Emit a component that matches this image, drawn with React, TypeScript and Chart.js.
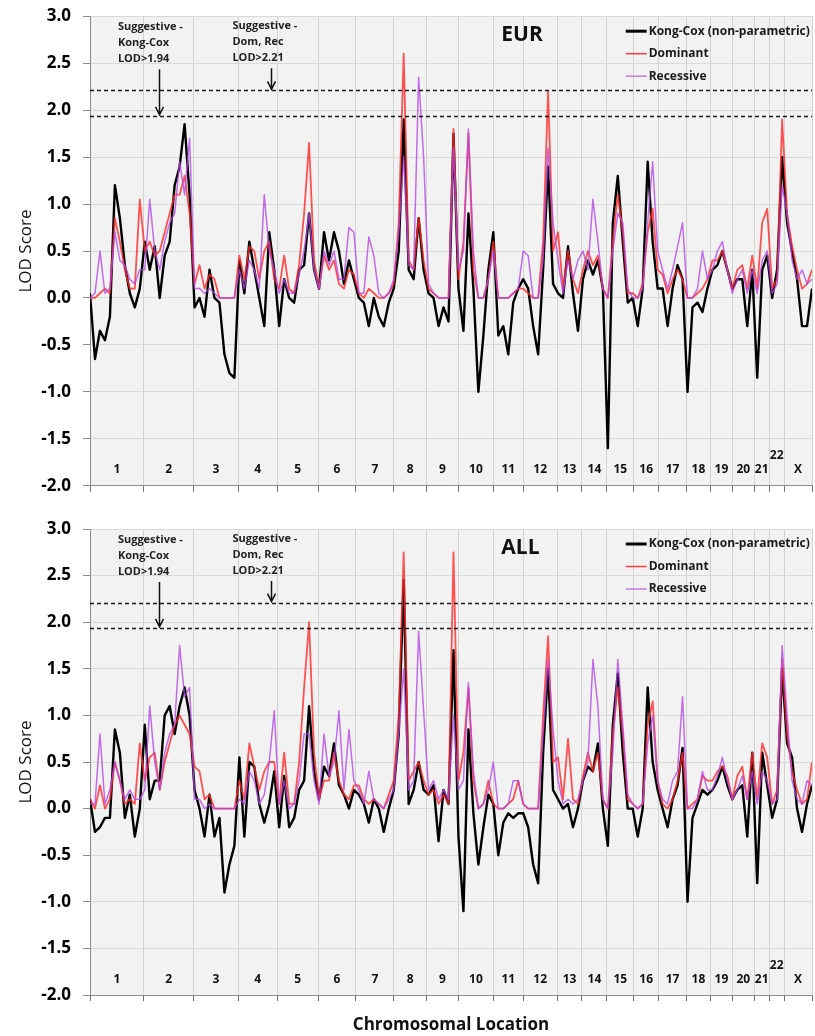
import React, { useEffect, useRef } from 'react';
import { Chart, registerables } from 'chart.js';

Chart.register(...registerables);

const FONT = '"Open Sans", "DejaVu Sans", sans-serif';

// Chromosomes and their boundaries along the genome axis (map units)
const CHROMOSOMES = ['1', '2', '3', '4', '5', '6', '7', '8', '9', '10', '11', '12', '13', '14', '15', '16', '17', '18', '19', '20', '21', '22', 'X'];
const CHR_BOUNDS = [0, 54, 104, 149, 188, 229, 267, 305, 338, 370, 405, 435, 469, 494, 519, 546, 571, 599, 623, 645, 667, 682, 697, 725];
const STEP = 5; // spacing of the marker grid (map units)

const THRESH_KC = 1.94;
const THRESH_DR = 2.21;
const Y_MIN = -2;
const Y_MAX = 3;
const Y_STEP = 0.5;

const SERIES_NAMES = ['Kong-Cox (non-parametric)', 'Dominant', 'Recessive'];

// EUR panel
const K_EUR = [
  0.05, -0.65, -0.35, -0.45, -0.2, 1.2, 0.85, 0.35, 0.05, -0.1,
  0.1, 0.6, 0.3, 0.55, 0.0, 0.45, 0.6, 1.2, 1.4, 1.85,
  1.1, -0.1, 0.0, -0.2, 0.3, 0.0, -0.05, -0.6, -0.8, -0.85,
  0.4, 0.05, 0.6, 0.3, 0.0, -0.3, 0.7, 0.3, -0.3, 0.2,
  0.0, -0.05, 0.3, 0.35, 0.9, 0.3, 0.1, 0.7, 0.4, 0.7,
  0.5, 0.15, 0.4, 0.2, 0.0, -0.05, -0.3, 0.0, -0.2, -0.3,
  -0.05, 0.1, 0.5, 1.9, 0.3, 0.2, 0.85, 0.3, 0.05, 0.0,
  -0.3, -0.1, -0.25, 1.75, 0.1, -0.35, 0.9, 0.1, -1.0, -0.4,
  0.3, 0.7, -0.4, -0.3, -0.6, -0.05, 0.1, 0.2, 0.1, -0.3,
  -0.6, 0.3, 1.4, 0.15, 0.05, 0.0, 0.55, 0.05, -0.35, 0.2,
  0.4, 0.25, 0.4, 0.1, -1.6, 0.8, 1.3, 0.6, -0.05, 0.0,
  -0.3, 0.1, 1.45, 0.6, 0.1, 0.1, -0.3, 0.1, 0.35, 0.2,
  -1.0, -0.1, -0.05, -0.15, 0.1, 0.3, 0.35, 0.5, 0.3, 0.1,
  0.2, 0.2, -0.3, 0.3, -0.85, 0.3, 0.45, 0.0, 0.3, 1.5,
  0.8, 0.5, 0.2, -0.3, -0.3, 0.1,
];
const D_EUR = [
  0, 0, 0.05, 0.1, 0.05, 0.85, 0.6, 0.3, 0.1, 0.1,
  1.05, 0.5, 0.6, 0.45, 0.5, 0.7, 0.9, 1.1, 1.1, 1.3,
  0.9, 0.15, 0.35, 0.1, 0.25, 0.2, 0, 0, 0, 0,
  0.45, 0.2, 0.55, 0.5, 0.2, 0.5, 0.6, 0.2, 0.1, 0.45,
  0.1, 0.05, 0.35, 0.9, 1.65, 0.4, 0.1, 0.45, 0.3, 0.4,
  0.15, 0.1, 0.3, 0.25, 0.05, 0, 0.1, 0.05, 0, 0,
  0.05, 0.15, 0.8, 2.6, 0.4, 0.3, 0.85, 0.4, 0.1, 0.05,
  0, 0, 0, 1.8, 0.2, 0.6, 1.75, 0.3, 0, 0,
  0.2, 0.6, 0, 0, 0, 0.05, 0.1, 0.1, 0.05, 0,
  0, 0.6, 2.2, 0.5, 0.7, 0.1, 0.5, 0.2, 0.05, 0.3,
  0.5, 0.35, 0.45, 0.1, 0, 0.6, 1.1, 0.7, 0.05, 0.05,
  0, 0.15, 0.7, 0.95, 0.3, 0.25, 0.05, 0.2, 0.3, 0.2,
  0, 0, 0.05, 0.1, 0.2, 0.4, 0.4, 0.5, 0.3, 0.1,
  0.3, 0.35, 0.1, 0.45, 0.1, 0.8, 0.95, 0.1, 0.2, 1.9,
  0.9, 0.55, 0.3, 0.1, 0.15, 0.3,
];
const R_EUR = [
  0, 0.05, 0.5, 0.05, 0.1, 0.7, 0.4, 0.35, 0.2, 0.15,
  0.3, 0.3, 1.05, 0.5, 0.3, 0.6, 0.8, 0.9, 1.45, 1.1,
  1.7, 0.1, 0.1, 0.05, 0.1, 0.05, 0, 0, 0, 0,
  0.3, 0.1, 0.4, 0.3, 0.1, 1.1, 0.5, 0.3, 0.05, 0.2,
  0.05, 0.05, 0.25, 0.5, 0.9, 0.3, 0.1, 0.5, 0.35, 0.5,
  0.2, 0.2, 0.75, 0.7, 0.05, 0.05, 0.65, 0.45, 0.05, 0,
  0.05, 0.2, 0.7, 1.5, 0.35, 0.3, 2.35, 1.5, 0.15, 0.05,
  0, 0, 0, 1.6, 0.3, 0.5, 1.8, 0.5, 0, 0,
  0.2, 0.5, 0, 0, 0, 0.05, 0.1, 0.5, 0.45, 0,
  0, 0.4, 1.6, 0.8, 0.4, 0.05, 0.4, 0.2, 0.4, 0.5,
  0.3, 1.05, 0.6, 0.1, 0, 0.5, 0.9, 0.8, 0.1, 0,
  0, 0.1, 0.8, 1.45, 0.5, 0.3, 0.1, 0.3, 0.55, 0.8,
  0, 0, 0.1, 0.5, 0.2, 0.3, 0.5, 0.6, 0.3, 0.05,
  0.2, 0.3, 0.05, 0.3, 0.05, 0.4, 0.5, 0.05, 0.15, 1.2,
  0.9, 0.4, 0.2, 0.3, 0.15, 0.2,
];

// ALL panel
const K_ALL = [
  0.1, -0.25, -0.2, -0.1, -0.1, 0.85, 0.6, -0.1, 0.15, -0.3,
  0.0, 0.9, 0.1, 0.3, 0.3, 1.0, 1.1, 0.8, 1.1, 1.3,
  1.0, 0.2, 0.0, -0.3, 0.15, -0.3, -0.1, -0.9, -0.6, -0.4,
  0.55, -0.3, 0.5, 0.45, 0.05, -0.15, 0.05, 0.4, -0.2, 0.35,
  -0.2, -0.1, 0.2, 0.3, 1.1, 0.4, 0.1, 0.45, 0.35, 0.7,
  0.25, 0.15, 0.0, 0.2, 0.15, 0.05, -0.15, 0.1, 0.0, -0.25,
  0.0, 0.2, 0.8, 2.45, 0.05, 0.2, 0.5, 0.2, 0.15, 0.25,
  -0.35, 0.2, 0.05, 1.7, -0.3, -1.1, 0.85, -0.05, -0.6, -0.2,
  0.15, 0.05, -0.5, -0.15, -0.05, -0.1, -0.05, -0.05, -0.2, -0.6,
  -0.8, 0.6, 1.5, 0.2, 0.1, 0.0, 0.05, -0.2, 0.0, 0.3,
  0.45, 0.4, 0.7, 0.0, -0.4, 0.9, 1.45, 0.6, 0.0, 0.0,
  -0.3, 0.0, 1.3, 0.5, 0.2, 0.0, -0.2, 0.1, 0.25, 0.65,
  -1.0, -0.1, 0.05, 0.2, 0.15, 0.2, 0.3, 0.45, 0.25, 0.1,
  0.2, 0.25, -0.3, 0.6, -0.8, 0.6, 0.25, -0.1, 0.1, 1.5,
  0.7, 0.55, 0.0, -0.25, 0.05, 0.25,
];
const D_ALL = [
  0.1, 0.0, 0.25, 0.0, 0.1, 0.5, 0.3, 0.05, 0.1, 0.05,
  0.7, 0.3, 0.55, 0.6, 0.2, 0.5, 0.7, 0.9, 1.0, 0.9,
  0.8, 0.45, 0.4, 0.1, 0.15, 0.0, 0, 0, 0, 0,
  0.3, 0.1, 0.7, 0.45, 0.2, 0.4, 0.5, 0.5, 0.05, 0.6,
  0.05, 0.05, 0.5, 1.3, 2.0, 0.6, 0.1, 0.3, 0.3, 0.6,
  0.3, 0.15, 0.1, 0.25, 0.25, 0.1, 0.05, 0.1, 0.05, 0.0,
  0.15, 0.3, 1.0, 2.75, 0.3, 0.4, 0.5, 0.3, 0.15, 0.2,
  0.05, 0.15, 0.05, 2.75, 0.3, 0.6, 1.3, 0.3, 0.0, 0.05,
  0.3, 0.05, 0, 0, 0.05, 0.1, 0.3, 0.05, 0, 0,
  0, 1.0, 1.85, 0.5, 0.55, 0.1, 0.75, 0.1, 0.05, 0.35,
  0.6, 0.4, 0.6, 0.1, 0, 0.8, 1.3, 0.8, 0.1, 0.05,
  0, 0.05, 0.9, 1.15, 0.3, 0.05, 0.0, 0.1, 0.3, 0.6,
  0, 0.05, 0.1, 0.35, 0.3, 0.3, 0.4, 0.45, 0.35, 0.1,
  0.35, 0.45, 0.1, 0.6, 0.1, 0.7, 0.55, 0.05, 0.2, 1.6,
  0.8, 0.4, 0.2, 0.05, 0.1, 0.5,
];
const R_ALL = [
  0.05, 0.05, 0.8, 0.05, 0.2, 0.5, 0.3, 0.1, 0.2, 0.1,
  0.1, 0.2, 1.1, 0.5, 0.2, 0.6, 0.8, 0.9, 1.75, 1.2,
  1.3, 0.1, 0.1, 0.0, 0.05, 0, 0, 0, 0, 0,
  0.1, 0.05, 0.4, 0.3, 0.05, 0.15, 0.5, 1.05, 0.05, 0.3,
  0, 0.05, 0.3, 0.8, 0.8, 0.3, 0.05, 0.8, 0.35, 0.5,
  1.05, 0.2, 0.85, 0.3, 0.2, 0.05, 0.4, 0.1, 0.05, 0,
  0.1, 0.2, 0.8, 1.5, 0.2, 0.3, 1.9, 1.05, 0.2, 0.3,
  0.1, 0.2, 0.1, 1.0, 0.2, 0.3, 1.35, 0.4, 0, 0.05,
  0.2, 0.5, 0, 0, 0.05, 0.3, 0.3, 0.05, 0, 0,
  0, 0.8, 1.6, 0.85, 0.3, 0.05, 0.1, 0.05, 0.1, 0.3,
  0.5, 1.6, 1.1, 0.1, 0, 0.6, 1.6, 0.9, 0.15, 0.05,
  0, 0.05, 0.7, 1.0, 0.3, 0.1, 0.05, 0.3, 0.4, 1.2,
  0, 0, 0.1, 0.4, 0.2, 0.2, 0.35, 0.55, 0.3, 0.1,
  0.2, 0.35, 0.1, 0.4, 0.05, 0.4, 0.3, 0.05, 0.1, 1.75,
  1.0, 0.3, 0.1, 0.05, 0.3, 0.25,
];

const POS = K_EUR.map((_, i) => i * STEP);

const COLORS = {
  kc: '#000000',
  dom: 'rgba(255, 40, 40, 0.8)',
  rec: 'rgba(178, 70, 228, 0.78)',
  domLegend: '#ff3b3b',
  recLegend: '#c37be6',
};

function toPoints(vals: number[]) {
  return vals.map((v, i) => ({ x: POS[i], y: v }));
}

function decorPlugin(panelLabel: string) {
  return {
    id: 'decor',
    beforeDraw(chart: any) {
      const { ctx, chartArea: a } = chart;
      ctx.save();
      ctx.fillStyle = '#f2f2f2';
      ctx.fillRect(a.left, a.top, a.right - a.left, a.bottom - a.top);
      ctx.restore();
    },
    afterDatasetsDraw(chart: any) {
      const { ctx, chartArea: a, scales } = chart;
      const x = scales.x;
      const y = scales.y;
      ctx.save();

      // threshold lines
      ctx.strokeStyle = '#1a1a1a';
      ctx.lineWidth = 1.4;
      ctx.setLineDash([4, 3]);
      [THRESH_DR, THRESH_KC].forEach((t) => {
        const py = Math.round(y.getPixelForValue(t)) + 0.5;
        ctx.beginPath();
        ctx.moveTo(a.left, py);
        ctx.lineTo(a.right, py);
        ctx.stroke();
      });
      ctx.setLineDash([]);

      // chromosome labels
      ctx.fillStyle = '#111';
      ctx.font = `bold 12px ${FONT}`;
      ctx.textAlign = 'center';
      ctx.textBaseline = 'middle';
      CHROMOSOMES.forEach((c, i) => {
        const cx = x.getPixelForValue((CHR_BOUNDS[i] + CHR_BOUNDS[i + 1]) / 2);
        const v = c === '22' ? -1.68 : -1.83;
        ctx.fillText(c, cx, y.getPixelForValue(v));
      });

      // annotations
      const anns = [
        { textPos: 28, arrowPos: 69, lines: ['Suggestive -', 'Kong-Cox', 'LOD>1.94'], thr: THRESH_KC, top: 11 },
        { textPos: 143, arrowPos: 182, lines: ['Suggestive -', 'Dom, Rec', 'LOD>2.21'], thr: THRESH_DR, top: 10 },
      ];
      ctx.font = `bold 11px ${FONT}`;
      ctx.textAlign = 'left';
      ctx.fillStyle = '#222';
      anns.forEach((an) => {
        const tx = x.getPixelForValue(an.textPos);
        an.lines.forEach((ln, k) => ctx.fillText(ln, tx, a.top + an.top + k * 16));
        const ax = Math.round(x.getPixelForValue(an.arrowPos)) + 0.5;
        const y0 = a.top + an.top + 2 * 16 + 10;
        const y1 = y.getPixelForValue(an.thr) - 1;
        ctx.strokeStyle = '#111';
        ctx.lineWidth = 1.5;
        ctx.beginPath();
        ctx.moveTo(ax, y0);
        ctx.lineTo(ax, y1);
        ctx.moveTo(ax - 4, y1 - 8);
        ctx.lineTo(ax, y1);
        ctx.lineTo(ax + 4, y1 - 8);
        ctx.stroke();
      });

      // panel label
      ctx.fillStyle = '#111';
      ctx.font = `bold 21px ${FONT}`;
      ctx.textAlign = 'left';
      ctx.fillText(panelLabel, x.getPixelForValue(413), a.top + 19);

      // legend
      const lx0 = x.getPixelForValue(538);
      const lx1 = x.getPixelForValue(559);
      const rows = [
        { name: SERIES_NAMES[0], color: COLORS.kc, w: 3 },
        { name: SERIES_NAMES[1], color: COLORS.domLegend, w: 1.5 },
        { name: SERIES_NAMES[2], color: COLORS.recLegend, w: 1.5 },
      ];
      ctx.font = `bold 12px ${FONT}`;
      rows.forEach((r, k) => {
        const ry = a.top + 15 + k * 22.5;
        ctx.strokeStyle = r.color;
        ctx.lineWidth = r.w;
        ctx.beginPath();
        ctx.moveTo(lx0, ry);
        ctx.lineTo(lx1, ry);
        ctx.stroke();
        ctx.fillStyle = '#1a1a1a';
        ctx.fillText(r.name, lx1 + 2, ry);
      });

      ctx.restore();
    },
  };
}

function makeChart(canvas: HTMLCanvasElement, k: number[], d: number[], r: number[], label: string, padTop: number, xHeight: number, showXTitle: boolean) {
  return new Chart(canvas, {
    type: 'line',
    data: {
      datasets: [
        { label: SERIES_NAMES[2], data: toPoints(r), borderColor: COLORS.rec, borderWidth: 1.5, order: 1 },
        { label: SERIES_NAMES[1], data: toPoints(d), borderColor: COLORS.dom, borderWidth: 1.8, order: 2 },
        { label: SERIES_NAMES[0], data: toPoints(k), borderColor: COLORS.kc, borderWidth: 2.4, order: 3 },
      ],
    },
    options: {
      animation: false,
      responsive: true,
      maintainAspectRatio: false,
      layout: { padding: { top: padTop, left: 0, right: 0, bottom: 0 } },
      elements: {
        point: { radius: 0, hoverRadius: 0 },
        line: { tension: 0, borderJoinStyle: 'round', fill: false },
      },
      plugins: { legend: { display: false }, tooltip: { enabled: false } },
      scales: {
        x: {
          type: 'linear',
          min: CHR_BOUNDS[0],
          max: CHR_BOUNDS[CHR_BOUNDS.length - 1],
          afterBuildTicks: (s: any) => {
            s.ticks = CHR_BOUNDS.map((v) => ({ value: v }));
          },
          afterFit: (s: any) => {
            s.height = xHeight;
          },
          ticks: { autoSkip: false, callback: () => '', font: { size: 1 } },
          grid: { color: '#d2d2d2', tickColor: '#6f6f6f', tickLength: 6, lineWidth: 1 },
          border: { color: '#8c8c8c', width: 1 },
          title: {
            display: showXTitle,
            text: 'Chromosomal Location',
            color: '#111',
            font: { family: FONT, size: 17, weight: 'bold' },
            padding: { top: 0, bottom: 1 },
          },
        },
        y: {
          min: Y_MIN,
          max: Y_MAX,
          afterFit: (s: any) => {
            s.width = 90;
          },
          ticks: {
            stepSize: Y_STEP,
            callback: (v: any) => Number(v).toFixed(1),
            color: '#000',
            padding: 12,
            font: { family: FONT, size: 17, weight: 'bold' },
          },
          grid: { color: '#d9d9d9', tickColor: '#8c8c8c', tickLength: 7 },
          border: { color: '#8c8c8c', width: 1 },
          title: {
            display: true,
            text: 'LOD Score',
            color: '#111',
            font: { family: FONT, size: 17 },
            padding: { top: 16, bottom: 0 },
          },
        },
      },
    },
    plugins: [decorPlugin(label)],
  } as any);
}

export default function App() {
  const topRef = useRef<HTMLCanvasElement | null>(null);
  const botRef = useRef<HTMLCanvasElement | null>(null);

  useEffect(() => {
    Chart.defaults.font.family = FONT;
    const c1 = makeChart(topRef.current!, K_EUR, D_EUR, R_EUR, 'EUR', 14, 17, false);
    const c2 = makeChart(botRef.current!, K_ALL, D_ALL, R_ALL, 'ALL', 29, 41, true);
    return () => {
      c1.destroy();
      c2.destroy();
    };
  }, []);

  return (
    <div style={{ position: 'absolute', left: 0, top: 0, width: 815, height: 1036, background: '#fff', overflow: 'hidden' }}>
      <div style={{ position: 'absolute', left: 0, top: -6, width: 815, height: 514 }}>
        <canvas ref={topRef} />
      </div>
      <div style={{ position: 'absolute', left: 0, top: 500, width: 815, height: 536 }}>
        <canvas ref={botRef} />
      </div>
    </div>
  );
}
